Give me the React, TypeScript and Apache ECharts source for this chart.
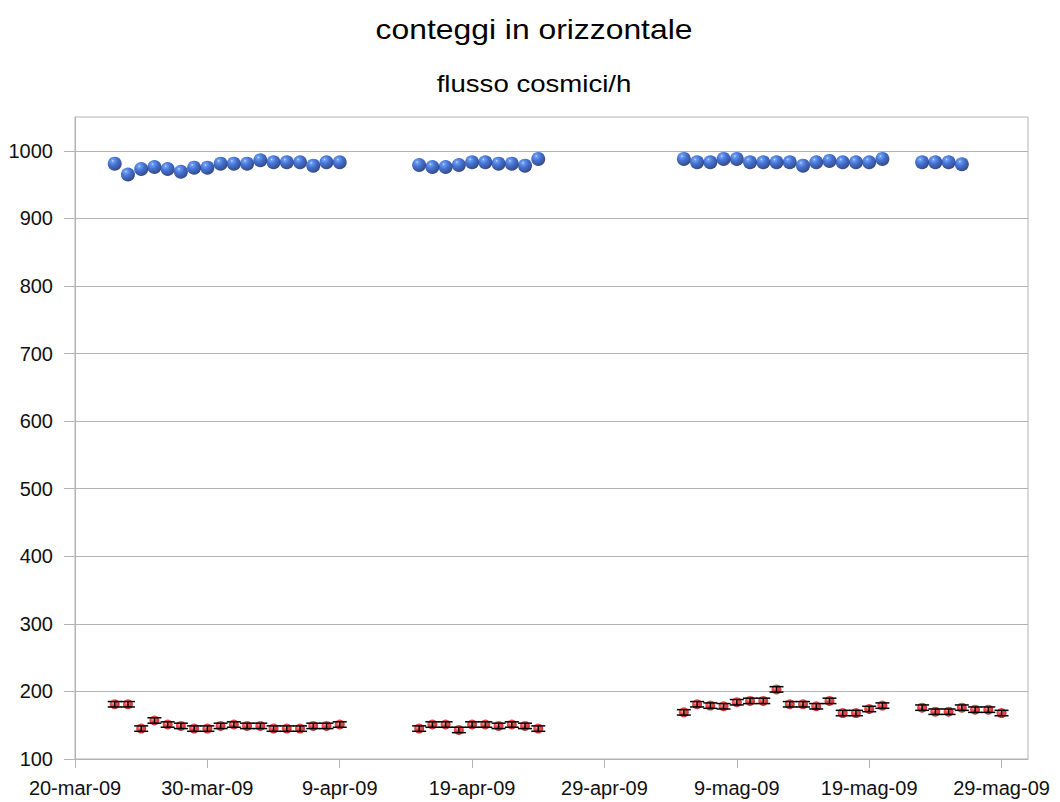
import React, { useEffect, useRef } from "react";
import * as echarts from "echarts";

const TITLE = "conteggi in orizzontale";
const SUBTITLE = "flusso cosmici/h";

const BASE_DATE = "2009-03-20";
const END_DATE = "2009-05-31";

const X_TICK_DATES = [
  "2009-03-20", "2009-03-30", "2009-04-09", "2009-04-19",
  "2009-04-29", "2009-05-09", "2009-05-19", "2009-05-29",
];
const X_TICK_LABELS = [
  "20-mar-09", "30-mar-09", "9-apr-09", "19-apr-09",
  "29-apr-09", "9-mag-09", "19-mag-09", "29-mag-09",
];
const Y_TICKS = [100, 200, 300, 400, 500, 600, 700, 800, 900, 1000];
const Y_MIN = 100;
const Y_MAX = 1050;

// blue series (upper)
const BLUE_DATES = [
  "2009-03-23", "2009-03-24", "2009-03-25", "2009-03-26", "2009-03-27", "2009-03-28",
  "2009-03-29", "2009-03-30", "2009-03-31", "2009-04-01", "2009-04-02", "2009-04-03",
  "2009-04-04", "2009-04-05", "2009-04-06", "2009-04-07", "2009-04-08", "2009-04-09",
  "2009-04-15", "2009-04-16", "2009-04-17", "2009-04-18", "2009-04-19", "2009-04-20",
  "2009-04-21", "2009-04-22", "2009-04-23", "2009-04-24",
  "2009-05-05", "2009-05-06", "2009-05-07", "2009-05-08", "2009-05-09", "2009-05-10",
  "2009-05-11", "2009-05-12", "2009-05-13", "2009-05-14", "2009-05-15", "2009-05-16",
  "2009-05-17", "2009-05-18", "2009-05-19", "2009-05-20",
  "2009-05-23", "2009-05-24", "2009-05-25", "2009-05-26",
];
const BLUE_VALUES = [
  981, 965, 973, 976, 973, 969, 975, 975, 981, 981, 981, 986, 983, 983, 983, 978, 983, 983,
  979, 976, 976, 979, 983, 983, 981, 981, 978, 988,
  988, 983, 983, 988, 988, 983, 983, 983, 983, 978, 983, 985, 983, 983, 983, 988,
  983, 983, 983, 980,
];

// red series (lower) with error bars
const RED_DATES = [
  "2009-03-23", "2009-03-24", "2009-03-25", "2009-03-26", "2009-03-27", "2009-03-28",
  "2009-03-29", "2009-03-30", "2009-03-31", "2009-04-01", "2009-04-02", "2009-04-03",
  "2009-04-04", "2009-04-05", "2009-04-06", "2009-04-07", "2009-04-08", "2009-04-09",
  "2009-04-15", "2009-04-16", "2009-04-17", "2009-04-18", "2009-04-19", "2009-04-20",
  "2009-04-21", "2009-04-22", "2009-04-23", "2009-04-24",
  "2009-05-05", "2009-05-06", "2009-05-07", "2009-05-08", "2009-05-09", "2009-05-10",
  "2009-05-11", "2009-05-12", "2009-05-13", "2009-05-14", "2009-05-15", "2009-05-16",
  "2009-05-17", "2009-05-18", "2009-05-19", "2009-05-20",
  "2009-05-23", "2009-05-24", "2009-05-25", "2009-05-26", "2009-05-27", "2009-05-28",
  "2009-05-29",
];
const RED_VALUES = [
  181, 181, 145, 157, 151, 149, 145, 145, 149, 151, 149, 149, 145, 145, 145, 149, 149, 151,
  145, 151, 151, 143, 151, 151, 149, 151, 149, 145,
  169, 181, 179, 178, 184, 186, 186, 203, 181, 181, 178, 186, 168, 168, 174, 179,
  176, 170, 170, 176, 173, 173, 168,
];
const RED_ERROR = 4;

const DAY_MS = 86400000;
const dayOf = (s: string) => (Date.parse(s) - Date.parse(BASE_DATE)) / DAY_MS;

export default function App() {
  const ref = useRef<HTMLDivElement>(null);

  useEffect(() => {
    document.body.style.margin = "0";
    if (!ref.current) return;
    const chart = echarts.init(ref.current, undefined, { renderer: "svg" });

    const tickDays = X_TICK_DATES.map(dayOf);
    const blueData = BLUE_DATES.map((d, i) => [dayOf(d), BLUE_VALUES[i]]);
    const redData = RED_DATES.map((d, i) => [dayOf(d), RED_VALUES[i]]);
    const errData = RED_DATES.map((d, i) => [
      dayOf(d),
      RED_VALUES[i] - RED_ERROR,
      RED_VALUES[i] + RED_ERROR,
    ]);

    const font = "Liberation Sans";
    const gridColor = "#b3b3b3";

    const blueSphere = new echarts.graphic.RadialGradient(0.36, 0.3, 0.72, [
      { offset: 0, color: "#c8dcff" },
      { offset: 0.12, color: "#4a86ee" },
      { offset: 0.45, color: "#1550cc" },
      { offset: 1, color: "#071d60" },
    ]);
    const redSphere = new echarts.graphic.RadialGradient(0.4, 0.35, 0.7, [
      { offset: 0, color: "#ffb8b8" },
      { offset: 0.35, color: "#f02020" },
      { offset: 1, color: "#a00000" },
    ]);

    const option: any = {
      animation: false,
      backgroundColor: "#ffffff",
      graphic: [
        {
          type: "text",
          x: 534,
          y: 29,
          scaleX: 1.18,
          style: {
            text: TITLE,
            fontFamily: font,
            fontSize: 27,
            fill: "#000",
            align: "center",
            verticalAlign: "middle",
          },
        },
        {
          type: "text",
          x: 534,
          y: 84,
          scaleX: 1.2,
          style: {
            text: SUBTITLE,
            fontFamily: font,
            fontSize: 23,
            fill: "#000",
            align: "center",
            verticalAlign: "middle",
          },
        },
      ],
      grid: {
        left: 75,
        right: 32,
        top: 117,
        bottom: 43,
        show: true,
        borderColor: gridColor,
        borderWidth: 1,
        containLabel: false,
      },
      xAxis: {
        type: "value",
        min: 0,
        max: dayOf(END_DATE),
        interval: 10,
        axisLine: { show: true, onZero: false, lineStyle: { color: gridColor, width: 1 } },
        axisTick: {
          show: true,
          length: 9,
          customValues: tickDays,
          lineStyle: { color: gridColor },
        },
        axisLabel: {
          customValues: tickDays,
          margin: 19,
          fontFamily: font,
          fontSize: 20,
          color: "#111",
          formatter: (v: number) => {
            const i = tickDays.findIndex((t) => Math.abs(t - v) < 1e-6);
            return i >= 0 ? X_TICK_LABELS[i] : "";
          },
        },
        splitLine: { show: false },
      },
      yAxis: {
        type: "value",
        min: Y_MIN,
        max: Y_MAX,
        interval: 100,
        axisLine: { show: true, onZero: false, lineStyle: { color: gridColor, width: 1 } },
        axisTick: {
          show: true,
          length: 11,
          customValues: Y_TICKS,
          lineStyle: { color: gridColor },
        },
        axisLabel: {
          customValues: Y_TICKS,
          margin: 22,
          fontFamily: font,
          fontSize: 20,
          color: "#111",
          formatter: (v: number) => String(v),
        },
        splitLine: { show: true, lineStyle: { color: gridColor, width: 1 } },
      },
      series: [
        {
          type: "scatter",
          data: blueData,
          symbol: "circle",
          symbolSize: 14,
          itemStyle: { color: blueSphere, borderWidth: 0 },
          z: 3,
        },
        {
          type: "scatter",
          data: redData,
          symbol: "circle",
          symbolSize: 10,
          itemStyle: { color: redSphere, borderWidth: 0 },
          z: 3,
        },
        {
          type: "custom",
          data: errData,
          encode: { x: 0, y: [1, 2] },
          z: 4,
          renderItem: (params: any, api: any) => {
            const x = api.value(0);
            const lo = api.coord([x, api.value(1)]);
            const hi = api.coord([x, api.value(2)]);
            const hw = 7;
            const st = { stroke: "#000", lineWidth: 1.5 };
            return {
              type: "group",
              children: [
                { type: "line", shape: { x1: lo[0], y1: lo[1], x2: hi[0], y2: hi[1] }, style: st },
                { type: "line", shape: { x1: lo[0] - hw, y1: lo[1], x2: lo[0] + hw, y2: lo[1] }, style: st },
                { type: "line", shape: { x1: hi[0] - hw, y1: hi[1], x2: hi[0] + hw, y2: hi[1] }, style: st },
              ],
            };
          },
        },
      ],
    };

    chart.setOption(option);
    return () => chart.dispose();
  }, []);

  return <div ref={ref} style={{ width: 1060, height: 802 }} />;
}
